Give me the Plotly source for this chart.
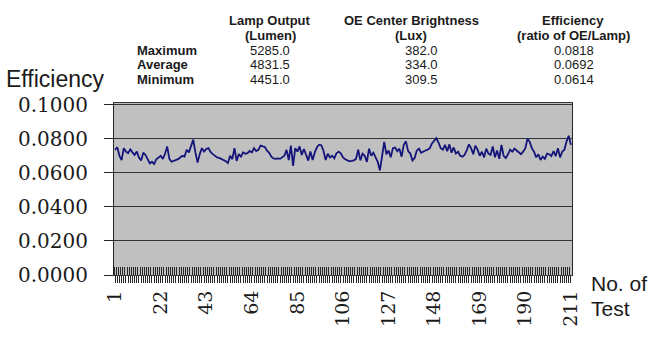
import plotly.graph_objects as go

# Efficiency (ratio of OE centre brightness to lamp output) for each test run
tests = list(range(1, 212))
efficiency = [
    0.0735, 0.0750, 0.0700, 0.0675, 0.0745, 0.0725, 0.0715, 0.0738, 0.0720, 0.0705,
    0.0725, 0.0690, 0.0672, 0.0718, 0.0705, 0.0680, 0.0655, 0.0665, 0.0652, 0.0680,
    0.0690, 0.0700, 0.0682, 0.0712, 0.0755, 0.0682, 0.0665, 0.0670, 0.0675, 0.0680,
    0.0690, 0.0700, 0.0695, 0.0735, 0.0720, 0.0760, 0.0795, 0.0720, 0.0660, 0.0710,
    0.0745, 0.0725, 0.0740, 0.0745, 0.0722, 0.0710, 0.0700, 0.0690, 0.0688, 0.0682,
    0.0675, 0.0668, 0.0658, 0.0700, 0.0680, 0.0745, 0.0670, 0.0710, 0.0695, 0.0720,
    0.0712, 0.0715, 0.0728, 0.0720, 0.0745, 0.0728, 0.0735, 0.0760, 0.0755, 0.0752,
    0.0730, 0.0718, 0.0695, 0.0685, 0.0682, 0.0685, 0.0682, 0.0690, 0.0700, 0.0735,
    0.0675, 0.0760, 0.0640, 0.0745, 0.0725, 0.0755, 0.0705, 0.0740, 0.0700, 0.0672,
    0.0725, 0.0675, 0.0720, 0.0750, 0.0765, 0.0762, 0.0730, 0.0675, 0.0712, 0.0690,
    0.0700, 0.0685, 0.0715, 0.0725, 0.0715, 0.0690, 0.0680, 0.0672, 0.0668, 0.0670,
    0.0673, 0.0682, 0.0736, 0.0673, 0.0713, 0.0700, 0.0664, 0.0742, 0.0700, 0.0718,
    0.0695, 0.0664, 0.0614, 0.0700, 0.0782, 0.0709, 0.0731, 0.0691, 0.0745, 0.0749,
    0.0727, 0.0742, 0.0695, 0.0764, 0.0785, 0.0727, 0.0713, 0.0673, 0.0687, 0.0731,
    0.0742, 0.0718, 0.0727, 0.0731, 0.0736, 0.0745, 0.0773, 0.0791, 0.0804, 0.0778,
    0.0745, 0.0736, 0.0764, 0.0727, 0.0767, 0.0718, 0.0749, 0.0713, 0.0724, 0.0700,
    0.0695, 0.0705, 0.0731, 0.0767, 0.0745, 0.0709, 0.0760, 0.0736, 0.0700, 0.0724,
    0.0691, 0.0742, 0.0713, 0.0705, 0.0755, 0.0691, 0.0731, 0.0682, 0.0764, 0.0700,
    0.0687, 0.0709, 0.0736, 0.0724, 0.0742, 0.0731, 0.0718, 0.0709, 0.0724, 0.0745,
    0.0800, 0.0782, 0.0745, 0.0724, 0.0691, 0.0709, 0.0676, 0.0695, 0.0682, 0.0713,
    0.0709, 0.0698, 0.0727, 0.0698, 0.0745, 0.0691, 0.0724, 0.0736, 0.0785, 0.0818,
    0.0764,
]

# Summary table printed above the chart
table_headers = [("Lamp Output", "(Lumen)"),
                 ("OE Center Brightness", "(Lux)"),
                 ("Efficiency", "(ratio of OE/Lamp)")]
row_labels = ["Maximum", "Average", "Minimum"]
lamp_output = ["5285.0", "4831.5", "4451.0"]
oe_brightness = ["382.0", "334.0", "309.5"]
efficiency_stats = ["0.0818", "0.0692", "0.0614"]

x_labels = [str(t) if (t - 1) % 21 == 0 else "" for t in tests]
y_ticks = [0.0, 0.02, 0.04, 0.06, 0.08, 0.10]

W, H = 665, 339
L, R, T, B = 114, 93, 103, 46
PW, PH = W - L - R, H - T - B


def px(x):
    return (x - L) / PW


def py(y):
    return (H - B - y) / PH


fig = go.Figure()
fig.add_trace(go.Scatter(
    x=tests, y=efficiency, mode="lines",
    line=dict(color="#14147a", width=1.8),
    hoverinfo="x+y", showlegend=False,
))

sans = "Liberation Sans, Arial, sans-serif"
serif = "DejaVu Serif"
ink = "#1a1a1a"
ann = []

# table header lines
header_x = [270, 411, 573]
for (h1, h2), cx in zip(table_headers, header_x):
    ann.append(dict(text="<b>%s</b>" % h1, x=px(cx), y=py(12)))
    ann.append(dict(text="<b>%s</b>" % h2, x=px(cx), y=py(28)))

row_y = [45, 61, 77]
for lbl, a, b, c, ry in zip(row_labels, lamp_output, oe_brightness, efficiency_stats, row_y):
    ann.append(dict(text="<b>%s</b>" % lbl, x=px(135), y=py(ry), xanchor="left"))
    ann.append(dict(text=a, x=px(270), y=py(ry)))
    ann.append(dict(text=b, x=px(421), y=py(ry)))
    ann.append(dict(text=c, x=px(574), y=py(ry)))

annotations = []
for a in ann:
    d = dict(xref="paper", yref="paper", showarrow=False, yanchor="middle",
             xanchor=a.pop("xanchor", "center"),
             font=dict(family=sans, size=13, color=ink))
    d.update(a)
    annotations.append(d)

annotations.append(dict(text="Efficiency", xref="paper", yref="paper",
                        x=px(4), y=py(77), xanchor="left", yanchor="middle",
                        showarrow=False, font=dict(family=sans, size=23, color=ink)))
for text, y0 in [("No. of", 302), ("Test", 330)]:
    annotations.append(dict(text=text, xref="paper", yref="paper",
                            x=px(589), y=py(y0), xanchor="left", yanchor="middle",
                            showarrow=False, font=dict(family=sans, size=21, color=ink)))

fig.update_layout(
    width=W, height=H,
    margin=dict(l=L, r=R, t=T, b=B, pad=0),
    paper_bgcolor="white",
    plot_bgcolor="#c0c0c0",
    annotations=annotations,
    xaxis=dict(
        range=[0.5, 211.5],
        tickmode="array", tickvals=tests, ticktext=x_labels,
        tickangle=-90,
        ticks="outside", ticklen=7, tickwidth=1, tickcolor="#262626",
        minor=dict(tickmode="array", tickvals=[t + 0.5 for t in [0] + tests],
                   ticks="inside", ticklen=8, tickwidth=1, tickcolor="#262626"),
        showgrid=False, zeroline=False,
        showline=True, linecolor="#3a3a3a", linewidth=1, mirror=True,
        tickfont=dict(family=serif, size=19, color=ink),
    ),
    yaxis=dict(
        range=[0, 0.101],
        tickmode="array", tickvals=y_ticks, tickformat=".4f",
        ticks="outside", ticklen=9, tickwidth=1, tickcolor="#262626",
        ticklabelstandoff=12,
        showgrid=True, gridcolor="#333333", gridwidth=1,
        zeroline=False,
        showline=True, linecolor="#262626", linewidth=1, mirror=True,
        tickfont=dict(family=serif, size=20, color=ink),
    ),
)

fig.write_html("out.html")
